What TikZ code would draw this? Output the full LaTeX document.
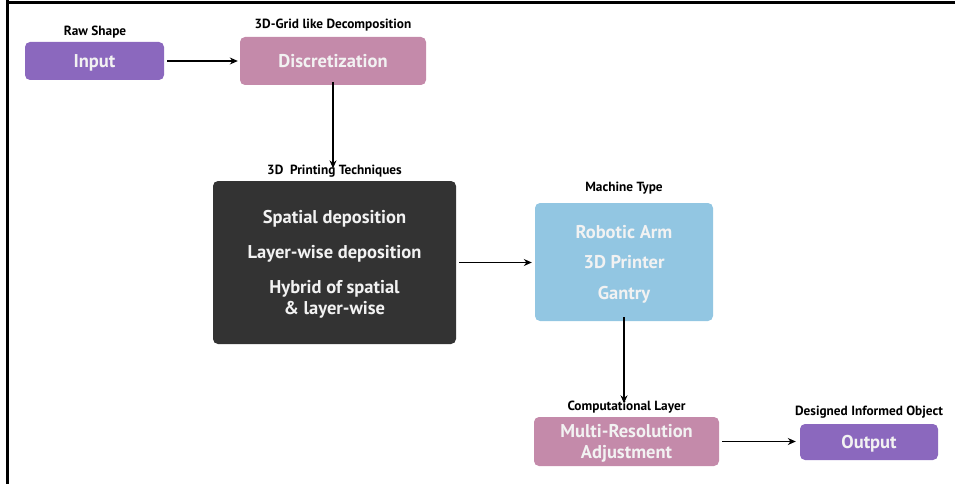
\documentclass[tikz,border=0pt]{standalone}
\usepackage{fontspec}
\setmainfont{PT Sans}
\usetikzlibrary{arrows.meta}
\definecolor{violetbox}{HTML}{8B68BE}
\definecolor{pinkbox}{HTML}{C48AAA}
\definecolor{darkbox}{HTML}{333333}
\definecolor{bluebox}{HTML}{92C6E2}
\definecolor{boxtext}{HTML}{F2F2F2}
\tikzset{
  stagebox/.style={rectangle, rounded corners=5pt, draw=none, inner sep=0pt,
    text=boxtext, align=center, text depth=0pt,
    font=\fontsize{18.5}{21}\selectfont\bfseries},
  caption/.style={inner sep=0pt, anchor=base, text=black,
    font=\fontsize{13.3}{15}\selectfont\bfseries},
  flow/.style={draw=black, line width=1.1pt, -{Stealth[length=8pt,width=7pt]}},
  frame/.style={line width=3pt, black}
}
\begin{document}
\begin{tikzpicture}[x=1pt,y=-1pt]
\useasboundingbox (0,0) rectangle (955,484);
% open frame: top and left edges
\draw[frame] (7.5,0) -- (7.5,484);
\draw[frame] (6,2.5) -- (955,2.5);

% stages
\node[stagebox, fill=violetbox, minimum width=139pt, minimum height=38pt] (input) at (94.5,61) {Input};
\node[stagebox, fill=pinkbox, minimum width=186pt, minimum height=48pt] (disc) at (333,61) {Discretization};
\node[stagebox, fill=darkbox, minimum width=243pt, minimum height=163pt] (tech) at (334.5,262.5)
  {Spatial deposition\\[14pt]Layer-wise deposition\\[14pt]Hybrid of spatial\\\& layer-wise};
\node[stagebox, fill=bluebox, minimum width=178pt, minimum height=118pt] (machine) at (624,262)
  {Robotic Arm\\[9.5pt]3D Printer\\[9.5pt]Gantry};
\node[stagebox, fill=pinkbox, minimum width=185pt, minimum height=49pt] (multi) at (626.5,441.5)
  {Multi-Resolution\\Adjustment};
\node[stagebox, fill=violetbox, minimum width=138pt, minimum height=36pt] (output) at (869,442) {Output};

% captions
\node[caption] (capinput) at (95,36) {Raw Shape};
\node[caption] (capdisc) at (333,29) {3D-Grid like Decomposition};
\node[caption] (captech) at (334.5,174) {3D\ \ Printing Techniques};
\node[caption] (capmachine) at (624,191) {Machine Type};
\node[caption] (capmulti) at (626.5,410) {Computational Layer};
\node[caption] (capoutput) at (869,415) {Designed Informed Object};

% connectors
\draw[flow] ([xshift=3pt]input.east) -- ([xshift=-2pt]disc.west);
\draw[flow] ([yshift=3pt]disc.south) -- ([yshift=-4pt]disc.south |- captech.north);
\draw[flow] ([xshift=3pt]tech.east) -- ([xshift=-3pt]tech.east -| machine.west);
\draw[flow] ([yshift=4pt]machine.south) -- ([yshift=-3pt]machine.south |- capmulti.north);
\draw[flow] ([xshift=3pt]multi.east) -- ([xshift=-4pt]multi.east -| output.west);
\end{tikzpicture}
\end{document}
